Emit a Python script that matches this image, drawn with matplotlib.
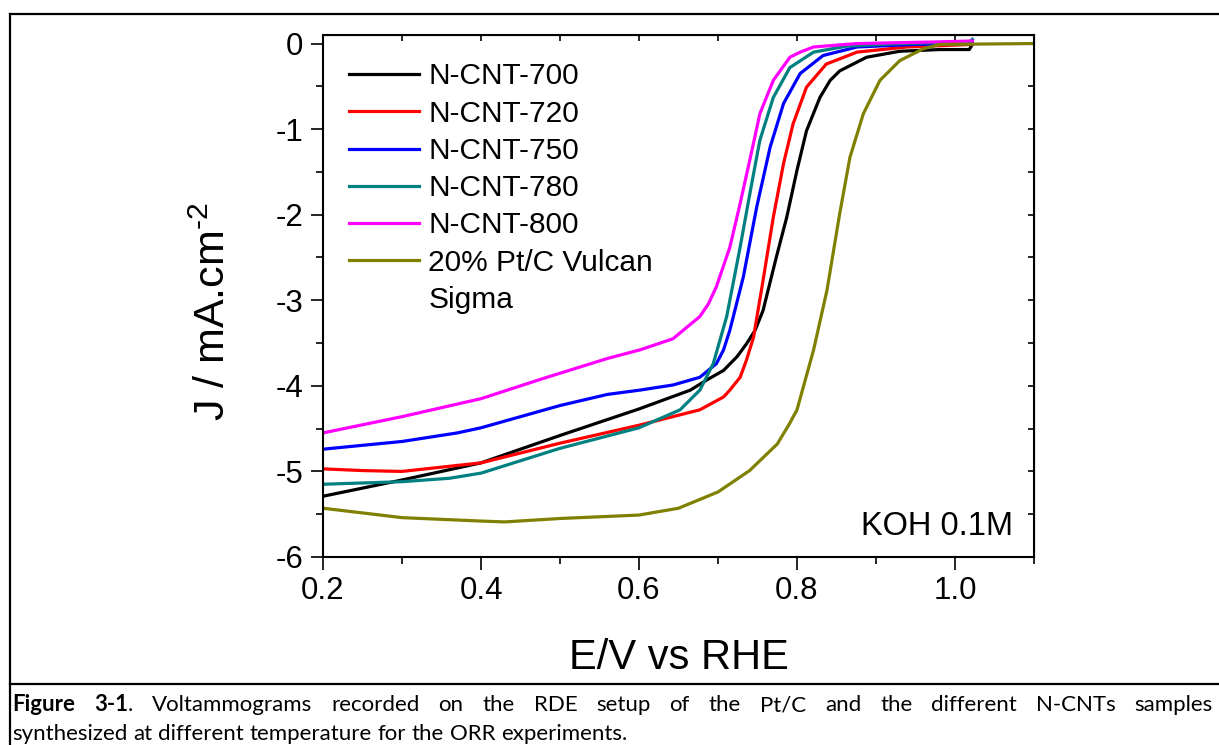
import numpy as np
import matplotlib
matplotlib.use("Agg")
import matplotlib.pyplot as plt
from matplotlib.lines import Line2D
from matplotlib.ticker import MultipleLocator, FormatStrFormatter

plt.rcParams['font.family'] = ['Liberation Sans', 'DejaVu Sans']
plt.rcParams['mathtext.default'] = 'regular'
plt.rcParams['axes.unicode_minus'] = False

# ---- data (E / V vs RHE, J / mA cm-2) ----
E_700 = [0.20, 0.30, 0.40, 0.50, 0.60, 0.665, 0.686, 0.707, 0.724, 0.736, 0.747, 0.757, 0.774, 0.787, 0.800, 0.812, 0.829, 0.842, 0.854, 0.888, 0.930, 0.981, 1.018, 1.022]
J_700 = [-5.29, -5.10, -4.90, -4.58, -4.27, -4.05, -3.93, -3.82, -3.66, -3.51, -3.35, -3.12, -2.49, -2.03, -1.48, -1.02, -0.63, -0.43, -0.32, -0.16, -0.09, -0.07, -0.07, -0.01]

E_720 = [0.20, 0.25, 0.30, 0.40, 0.50, 0.60, 0.677, 0.707, 0.715, 0.728, 0.736, 0.745, 0.757, 0.770, 0.783, 0.795, 0.812, 0.837, 0.876, 0.939, 1.022]
J_720 = [-4.97, -4.99, -5.00, -4.90, -4.67, -4.46, -4.28, -4.13, -4.05, -3.90, -3.70, -3.43, -2.77, -2.03, -1.40, -0.94, -0.51, -0.24, -0.10, -0.04, -0.01]

E_750 = [0.20, 0.30, 0.37, 0.40, 0.45, 0.50, 0.56, 0.601, 0.643, 0.677, 0.698, 0.707, 0.715, 0.732, 0.749, 0.766, 0.783, 0.804, 0.833, 0.876, 0.95, 1.022]
J_750 = [-4.74, -4.65, -4.55, -4.49, -4.36, -4.23, -4.10, -4.05, -3.99, -3.90, -3.74, -3.58, -3.35, -2.73, -1.91, -1.21, -0.70, -0.35, -0.14, -0.04, -0.01, 0.0]

E_780 = [0.20, 0.30, 0.36, 0.40, 0.50, 0.60, 0.652, 0.677, 0.694, 0.711, 0.728, 0.741, 0.753, 0.770, 0.791, 0.821, 0.863, 0.93, 1.018, 1.022]
J_780 = [-5.15, -5.12, -5.08, -5.02, -4.73, -4.49, -4.28, -4.05, -3.74, -3.19, -2.38, -1.72, -1.13, -0.63, -0.28, -0.10, -0.03, 0.0, 0.02, 0.05]

E_800 = [0.20, 0.30, 0.40, 0.48, 0.56, 0.601, 0.643, 0.656, 0.677, 0.688, 0.698, 0.715, 0.728, 0.741, 0.753, 0.770, 0.791, 0.804, 0.821, 0.876, 0.981, 1.022]
J_800 = [-4.55, -4.36, -4.15, -3.91, -3.68, -3.58, -3.45, -3.35, -3.19, -3.04, -2.84, -2.38, -1.87, -1.33, -0.82, -0.43, -0.16, -0.10, -0.04, 0.0, 0.02, 0.03]

E_pt = [0.20, 0.30, 0.40, 0.43, 0.50, 0.60, 0.65, 0.70, 0.74, 0.775, 0.79, 0.800, 0.821, 0.838, 0.854, 0.867, 0.884, 0.905, 0.930, 0.960, 0.981, 1.10]
J_pt = [-5.43, -5.54, -5.58, -5.59, -5.55, -5.51, -5.43, -5.24, -4.99, -4.68, -4.45, -4.28, -3.58, -2.88, -1.99, -1.33, -0.82, -0.43, -0.20, -0.06, -0.01, 0.0]

labels = ['N-CNT-700', 'N-CNT-720', 'N-CNT-750', 'N-CNT-780', 'N-CNT-800', '20% Pt/C Vulcan']
colors = ['black', '#ff0000', '#0000ff', '#008080', '#ff00ff', '#808000']

W, H = 1219, 745
fig = plt.figure(figsize=(W / 100, H / 100), dpi=100)
ax = fig.add_axes([323 / W, 1 - 557 / H, (1034 - 323) / W, (557 - 35) / H])

series = [(E_700, J_700), (E_720, J_720), (E_750, J_750), (E_780, J_780), (E_800, J_800), (E_pt, J_pt)]
handles = []
for (e, j), lab, c in zip(series, labels, colors):
    h, = ax.plot(e, j, color=c, lw=2.3, label=lab, solid_joinstyle='round')
    handles.append(h)
# second line of the Pt/C label
handles.append(Line2D([], [], color='none'))
leg_labels = labels + ['Sigma']

ax.set_xlim(0.2, 1.1)
ax.set_ylim(-6, 0.1)
ax.xaxis.set_major_locator(MultipleLocator(0.2))
ax.xaxis.set_minor_locator(MultipleLocator(0.1))
ax.xaxis.set_major_formatter(FormatStrFormatter('%.1f'))
ax.yaxis.set_major_locator(MultipleLocator(1))
ax.yaxis.set_minor_locator(MultipleLocator(0.5))
ax.tick_params(which='major', direction='out', length=9, width=1.2, labelsize=22.5, pad=5)
ax.tick_params(which='minor', direction='out', length=5, width=1.2)
for s in ax.spines.values():
    s.set_linewidth(1.5)

# inward ticks on top and right
top = ax.secondary_xaxis('top')
top.xaxis.set_major_locator(MultipleLocator(0.1))
top.tick_params(direction='in', length=4, width=1.2, labeltop=False)
right = ax.secondary_yaxis('right')
right.yaxis.set_major_locator(MultipleLocator(0.5))
right.tick_params(direction='in', length=4, width=1.2, labelright=False)

ax.set_xlabel('E/V vs RHE', fontsize=30, labelpad=23)
ax.set_ylabel('J / mA.cm$^{\u20102}$', fontsize=31)
ax.yaxis.set_label_coords(-0.125, 0.47)

ax.legend(handles, leg_labels, loc='upper left', bbox_to_anchor=(0.016, 0.976), frameon=False,
          fontsize=21.5, handlelength=2.35, handletextpad=0.3, labelspacing=0.31, borderpad=0)

ax.text(0.97, 0.042, 'KOH 0.1M', transform=ax.transAxes, ha='right', va='baseline', fontsize=23.5)

# ---- frame lines around the figure ----
lw = 1.6
fig.add_artist(Line2D([10 / W, 1], [1 - 14 / H] * 2, color='black', lw=lw))
fig.add_artist(Line2D([10 / W] * 2, [0, 1 - 14 / H], color='black', lw=lw))
fig.add_artist(Line2D([10 / W, 1], [1 - 684 / H] * 2, color='black', lw=lw))

# ---- caption, first line justified ----
cap_fs = 16
r = fig.canvas.get_renderer()


def put_line(tokens, y_px, x0, x1, justify):
    made = []
    for tok in tokens:
        pieces = []
        for s, wt in tok:
            t = fig.text(0, 1 - y_px / H, s, fontsize=cap_fs, fontweight=wt,
                         family=['Lato', 'DejaVu Sans'], va='baseline', ha='left')
            pieces.append((t, t.get_window_extent(r).width))
        made.append(pieces)
    widths = [sum(p[1] for p in pcs) for pcs in made]
    if justify:
        gap = (x1 - x0 - sum(widths)) / (len(tokens) - 1)
    else:
        a = fig.text(0, 0, 'x x', fontsize=cap_fs, family=['Lato', 'DejaVu Sans'])
        b = fig.text(0, 0, 'xx', fontsize=cap_fs, family=['Lato', 'DejaVu Sans'])
        gap = a.get_window_extent(r).width - b.get_window_extent(r).width
        a.remove()
        b.remove()
    x = x0
    for pcs, w in zip(made, widths):
        xx = x
        for t, pw in pcs:
            t.set_x(xx / W)
            xx += pw
        x += w + gap


line1 = [[('Figure', 'bold')], [('3-1', 'bold'), ('.', 'normal')]] + \
    [[(wd, 'normal')] for wd in 'Voltammograms recorded on the RDE setup of the Pt/C and the different N-CNTs samples'.split()]
line2 = [[(wd, 'normal')] for wd in 'synthesized at different temperature for the ORR experiments.'.split()]
put_line(line1, 711, 12, 1213, True)
put_line(line2, 740, 12, 1213, False)

fig.savefig('out.png', dpi=100)
